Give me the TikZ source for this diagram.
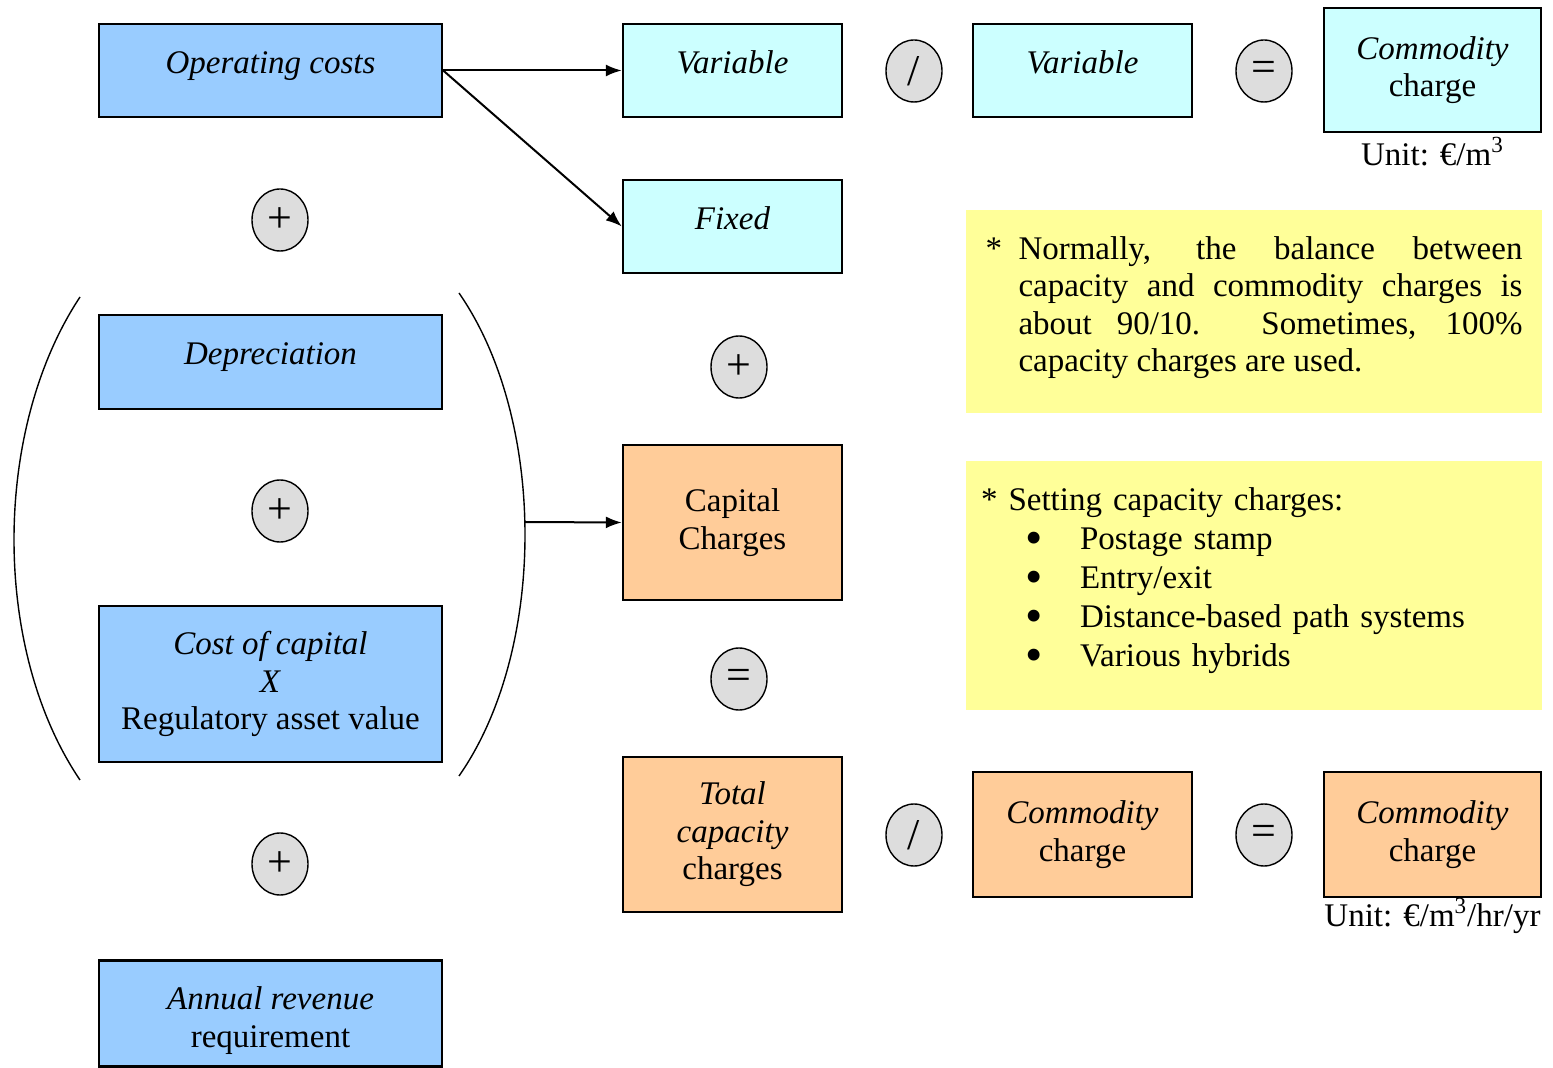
\documentclass[tikz,border=0pt]{standalone}
\usepackage{fontspec}
\setmainfont{Liberation Serif}
\usepackage{tikz}
\usetikzlibrary{arrows.meta,shapes,calc,positioning}
\tikzstyle{flecha}=[->, >={Latex[length=8pt,width=6pt]}, line width=1pt]

\definecolor{azul}{HTML}{99CCFF}
\definecolor{celeste}{HTML}{CCFFFF}
\definecolor{naranja}{HTML}{FFCC99}
\definecolor{amarillo}{HTML}{FFFF99}
\definecolor{gris}{HTML}{DDDDDD}
\newcommand\letra{\fontsize{16.5}{18.7}\selectfont}
\newcommand\vineta{\hspace*{22pt}\makebox[27.5pt][l]{\raisebox{-0.15em}{\scalebox{1.5}{\textbullet}}}}

\begin{document}
\begin{tikzpicture}[x=0.5pt,y=-0.5pt,
    caja/.style={rectangle,draw=black,line width=1.2pt,inner sep=2pt,align=center,font=\letra},
    una/.style={text height=9.5pt,text depth=6.5pt},
    costo/.style={caja,fill=azul,minimum width=171.5pt},
    medio/.style={caja,minimum width=109.5pt},
    oper/.style={ellipse,draw=black,fill=gris,line width=0.7pt,inner sep=0pt,
                 minimum width=28pt,minimum height=31pt,font=\fontsize{22}{24}\selectfont},
    nota/.style={fill=amarillo,minimum width=288pt,align=justify,font=\letra}]
  \useasboundingbox (0,0) rectangle (1553,1068);

  % left column
  \node[costo,una,minimum height=46.5pt] (opcost) at (270.5,70.5) {\textit{Operating costs}};
  \node[oper] (mas1) at (280,220) {+};
  \node[costo,una,minimum height=47pt] (deprec) at (270.5,362) {\textit{Depreciation}};
  \node[oper] (mas2) at (280,511) {+};
  \node[costo,minimum height=78pt] (capcost) at (270.5,684) {\textit{Cost of capital}\\ \textit{X}\\ Regulatory asset value};
  \node[oper] (mas3) at (280,864) {+};
  \node[costo,minimum height=53pt] (annual) at (270.5,1013.5) {\rule{0pt}{18.5pt}\textit{Annual revenue}\\ requirement};

  % brackets
  \draw[line width=0.7pt] (80,297) .. controls (-8,430) and (-8,650) .. (80,780);
  \draw[line width=0.7pt] (459,293) .. controls (547,420) and (547,650) .. (459,776);
  \coordinate (brk) at (525,522);

  % middle column
  \node[medio,una,fill=celeste,minimum height=46.5pt] (var1) at (732.5,70.5) {\textit{Variable}};
  \node[medio,una,fill=celeste,minimum height=46.5pt] (fijo) at (732.5,226.5) {\textit{Fixed}};
  \node[oper] (mas4) at (739,367) {+};
  \node[medio,fill=naranja,minimum height=77.5pt] (capch) at (732.5,522.5) {Capital\\ Charges};
  \node[oper] (igual1) at (739,679) {=};
  \node[medio,fill=naranja,minimum height=77.5pt] (totcap) at (732.5,834.5) {\textit{Total}\\ \textit{capacity}\\ charges};

  % top row
  \node[oper] (div1) at (914,71) {/};
  \node[medio,una,fill=celeste,minimum height=46.5pt] (var2) at (1082.5,70.5) {\textit{Variable}};
  \node[oper] (igual2) at (1264,71) {=};
  \node[caja,fill=celeste,minimum width=108.5pt,minimum height=62pt] (comm1) at (1432.5,70) {\textit{Commodity}\\ charge};
  \node[font=\letra,inner sep=2pt] (unit1) [below=0pt of comm1] {Unit: €/m\textsuperscript{3}};

  % bottom row
  \node[oper] (div2) at (914,835) {/};
  \node[medio,fill=naranja,minimum height=62.5pt] (comm2) at (1082.5,834.5) {\textit{Commodity}\\ charge};
  \node[oper] (igual3) at (1264,835) {=};
  \node[caja,fill=naranja,minimum width=108.5pt,minimum height=62.5pt] (comm3) at (1432.5,834.5) {\textit{Commodity}\\ charge};
  \node[font=\letra,inner sep=2pt] (unit2) [below=-2pt of comm3] {Unit: €/m\textsuperscript{3}/hr/yr};

  % notes
  \node[nota,minimum height=101.5pt,text width=268.5pt,inner xsep=9.75pt,text depth=63.7pt] (nota1) at (1254,311.5)
    {\hangindent=16.5pt\hangafter=1\makebox[16.5pt][l]{*}Normally, the balance between\linebreak
     capacity and commodity charges is\linebreak about 90/10. Sometimes, 100\%\linebreak
     capacity charges are used.\par};
  \node[nota,align=left,minimum height=124.5pt,text width=273pt,inner xsep=7.5pt,text depth=86.5pt,
        font=\fontsize{16.5}{19.5}\selectfont] (nota2) at (1254,585.5)
    {* Setting capacity charges:\\ \vineta Postage stamp\\ \vineta Entry/exit\\
     \vineta Distance-based path systems\\ \vineta Various hybrids};

  % arrows
  \draw[flecha] (opcost.east) -- (var1.west);
  \draw[flecha] (opcost.east) -- (fijo.west);
  \draw[flecha] (brk) -- (capch.west);
\end{tikzpicture}
\end{document}
